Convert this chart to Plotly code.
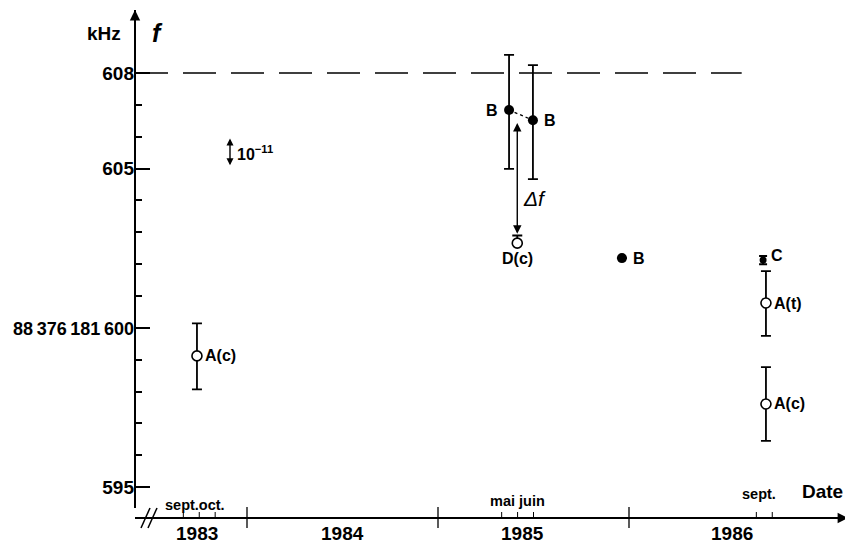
import plotly.graph_objects as go

# ---------------- data ----------------
open_labels = ["A(c)", "D(c)", "A(t)", "A(c)"]
open_x = [1983.738, 1985.415, 1986.717, 1986.717]
open_y = [599.12, 602.66, 600.78, 597.61]
open_err_plus = [1.02, 0.24, 1.00, 1.16]
open_err_minus = [1.05, 0.0, 1.03, 1.16]

b_labels = ["B", "B", "B"]
b_x = [1985.372, 1985.497, 1985.963]
b_y = [606.84, 606.52, 602.19]
b_err_plus = [1.73, 1.73, 0.0]
b_err_minus = [1.85, 1.85, 0.0]

c_labels = ["C"]
c_x = [1986.702]
c_y = [602.13]
c_err = [0.13]

ref_freq = 608
ref_end = 1986.59

y_tickvals = [595, 600, 605, 608]
y_ticktext = ["595", "88\u2009376\u2009181\u2009600", "605", "608"]
y_minor = [596, 597, 598, 599, 601, 602, 603, 604, 606, 607]

year_bounds = [1984, 1985, 1986]
year_labels = ["1983", "1984", "1985", "1986"]
year_label_x = [1983.74, 1984.50, 1985.44, 1986.54]

month_marks = [(1983, 9), (1983, 10), (1983, 11), (1985, 5), (1985, 6), (1985, 7), (1986, 9), (1986, 10)]
month_texts = ["sept.oct.", "mai juin", "sept."]
month_text_x = [1983.73, 1985.414, 1986.68]

delta_f_x = 1985.415
delta_f_top = 606.43
delta_f_bottom = 602.91

rel_unit = 1e-11
carrier_khz = 88376181600
scale_x = 1983.911
scale_center = 605.5

x_range = [1983.4136, 1987.1466]
y_range = [594.03, 609.98]

FONT = "Liberation Sans, Arial, Helvetica, sans-serif"
BLACK = "black"

# plot area size in pixels (page has an 8px body margin)
PW, PH = 713, 508

fig = go.Figure()

# B1-B2 dashed connector
fig.add_trace(go.Scatter(x=b_x[:2], y=b_y[:2], mode="lines",
                         line=dict(color=BLACK, width=1.3, dash="3px,3px"),
                         hoverinfo="skip", showlegend=False))

# open points
fig.add_trace(go.Scatter(
    x=open_x, y=open_y, mode="markers",
    marker=dict(symbol="circle", size=10, color="white", line=dict(color=BLACK, width=1.6)),
    error_y=dict(type="data", symmetric=False, array=open_err_plus, arrayminus=open_err_minus,
                 color=BLACK, thickness=1.8, width=5),
    showlegend=False))

# filled B points
fig.add_trace(go.Scatter(
    x=b_x, y=b_y, mode="markers",
    marker=dict(symbol="circle", size=10, color=BLACK),
    error_y=dict(type="data", symmetric=False, array=b_err_plus, arrayminus=b_err_minus,
                 color=BLACK, thickness=1.8, width=5),
    showlegend=False))

# C point
fig.add_trace(go.Scatter(
    x=c_x, y=c_y, mode="markers",
    marker=dict(symbol="circle", size=7, color=BLACK),
    error_y=dict(type="data", array=c_err, color=BLACK, thickness=2, width=4),
    showlegend=False))

shapes = []
# axes lines
shapes.append(dict(type="line", xref="paper", yref="paper", x0=0, x1=1, y0=0, y1=0,
                   line=dict(color=BLACK, width=2)))
shapes.append(dict(type="line", xref="paper", yref="paper", x0=0, x1=0, y0=10 / PH, y1=1,
                   line=dict(color=BLACK, width=2)))
# axis break //
for dx in (0, 7):
    shapes.append(dict(type="line", xref="paper", yref="paper",
                       x0=(6 + dx) / PW, x1=(15 + dx) / PW,
                       y0=-10 / PH, y1=10 / PH, line=dict(color=BLACK, width=1.5)))
# year boundary ticks
for yb in year_bounds:
    shapes.append(dict(type="line", xref="x", yref="paper", x0=yb, x1=yb,
                       y0=-10 / PH, y1=11 / PH, line=dict(color=BLACK, width=1.3)))
# month ticks
for yr, mo in month_marks:
    xm = yr + (mo - 1) / 12
    shapes.append(dict(type="line", xref="x", yref="paper", x0=xm, x1=xm,
                       y0=0, y1=6 / PH, line=dict(color=BLACK, width=1)))
# reference dashed line
shapes.append(dict(type="line", xref="paper", yref="y", x0=0,
                   x1=(ref_end - x_range[0]) / (x_range[1] - x_range[0]),
                   y0=ref_freq, y1=ref_freq, line=dict(color=BLACK, width=1.6, dash="33px,15px")))

annotations = []
# axis arrowheads
annotations.append(dict(xref="paper", yref="paper", x=1, y=0, ax=-25, ay=0, text="",
                        showarrow=True, arrowhead=2, arrowsize=1.3, arrowwidth=1.6, arrowcolor=BLACK))
annotations.append(dict(xref="paper", yref="paper", x=0, y=1, ax=0, ay=25, text="",
                        showarrow=True, arrowhead=2, arrowsize=1.3, arrowwidth=1.6, arrowcolor=BLACK))

# point labels
open_pos = ["right", "below", "right", "right"]
for lab, xv, yv, pos in zip(open_labels, open_x, open_y, open_pos):
    if pos == "right":
        annotations.append(dict(x=xv, y=yv, xref="x", yref="y", text="<b>%s</b>" % lab, showarrow=False,
                                xanchor="left", xshift=6, font=dict(size=16, family=FONT, color=BLACK)))
    else:
        annotations.append(dict(x=xv, y=yv, xref="x", yref="y", text="<b>%s</b>" % lab, showarrow=False,
                                yanchor="top", yshift=-5, font=dict(size=16, family=FONT, color=BLACK)))
b_pos = ["left", "right", "right"]
for lab, xv, yv, pos in zip(b_labels, b_x, b_y, b_pos):
    annotations.append(dict(x=xv, y=yv, xref="x", yref="y", text="<b>%s</b>" % lab, showarrow=False,
                            xanchor="right" if pos == "left" else "left",
                            xshift=-9 if pos == "left" else 9,
                            font=dict(size=16, family=FONT, color=BLACK)))
for lab, xv, yv in zip(c_labels, c_x, c_y):
    annotations.append(dict(x=xv, y=yv, xref="x", yref="y", text="<b>%s</b>" % lab, showarrow=False,
                            xanchor="left", xshift=6, yshift=5, font=dict(size=16, family=FONT, color=BLACK)))

# delta f arrow
annotations.append(dict(x=delta_f_x, y=delta_f_top, ax=delta_f_x, ay=delta_f_bottom,
                        xref="x", yref="y", axref="x", ayref="y", text="", showarrow=True,
                        arrowhead=2, arrowside="end+start", arrowsize=1.2, arrowwidth=1.4, arrowcolor=BLACK))
annotations.append(dict(x=delta_f_x, y=(delta_f_top + delta_f_bottom) / 2 - 0.6, xref="x", yref="y",
                        text="<i>\u0394f</i>", showarrow=False, xanchor="left", xshift=4,
                        font=dict(size=21, family=FONT, color=BLACK)))

# 10^-11 scale bar
half = rel_unit * carrier_khz / 2
annotations.append(dict(x=scale_x, y=scale_center + half, ax=scale_x, ay=scale_center - half,
                        xref="x", yref="y", axref="x", ayref="y", text="", showarrow=True,
                        arrowhead=2, arrowside="end+start", arrowsize=1, arrowwidth=1.4, arrowcolor=BLACK))
annotations.append(dict(x=scale_x, y=scale_center, xref="x", yref="y",
                        text="<b>10<sup>\u221211</sup></b>", showarrow=False, xanchor="left", xshift=5,
                        font=dict(size=16, family=FONT, color=BLACK)))

# year labels
for lab, xv in zip(year_labels, year_label_x):
    annotations.append(dict(x=xv, y=0, xref="x", yref="paper", text="<b>%s</b>" % lab, showarrow=False,
                            yanchor="top", yshift=-3, font=dict(size=19, family=FONT, color=BLACK)))
# month labels
month_yshift = [3, 7, 14]
for lab, xv, ys in zip(month_texts, month_text_x, month_yshift):
    annotations.append(dict(x=xv, y=0, xref="x", yref="paper", text="<b>%s</b>" % lab, showarrow=False,
                            yanchor="bottom", yshift=ys, font=dict(size=14.5, family=FONT, color=BLACK)))

# axis titles
annotations.append(dict(xref="paper", yref="paper", x=1, y=0, text="<b>Date</b>", showarrow=False,
                        xanchor="right", yanchor="bottom", xshift=-3, yshift=14,
                        font=dict(size=19, family=FONT, color=BLACK)))
annotations.append(dict(xref="paper", yref="paper", x=0, y=1, text="<b>kHz</b>", showarrow=False,
                        xanchor="right", yanchor="middle", xshift=-12, yshift=-23,
                        font=dict(size=19, family=FONT, color=BLACK)))
annotations.append(dict(xref="paper", yref="paper", x=0, y=1, text="<b><i>f</i></b>", showarrow=False,
                        xanchor="left", yanchor="middle", xshift=15, yshift=-23,
                        font=dict(size=25, family=FONT, color=BLACK)))


def tick_label(t):
    if len(t) > 3:
        return '<span style="font-size:18px"><b>%s</b></span>' % t
    return "<b>%s</b>" % t


fig.update_layout(
    width=853, height=544,
    margin=dict(l=127, r=13, t=2, b=34, autoexpand=False),
    plot_bgcolor="white", paper_bgcolor="white",
    showlegend=False,
    shapes=shapes, annotations=annotations,
    xaxis=dict(range=x_range, showgrid=False, zeroline=False, showline=False,
               showticklabels=False, ticks="", automargin=False),
    yaxis=dict(range=y_range, showgrid=False, zeroline=False, showline=False, automargin=False,
               tickmode="array", tickvals=y_tickvals,
               ticktext=[tick_label(t) for t in y_ticktext],
               ticks="inside", ticklen=15, tickwidth=2, tickcolor=BLACK,
               tickfont=dict(size=19, family=FONT, color=BLACK),
               minor=dict(tickmode="array", tickvals=y_minor, ticks="inside", ticklen=7,
                          tickwidth=2, tickcolor=BLACK, showgrid=False)),
)

fig.write_html("out.html")
